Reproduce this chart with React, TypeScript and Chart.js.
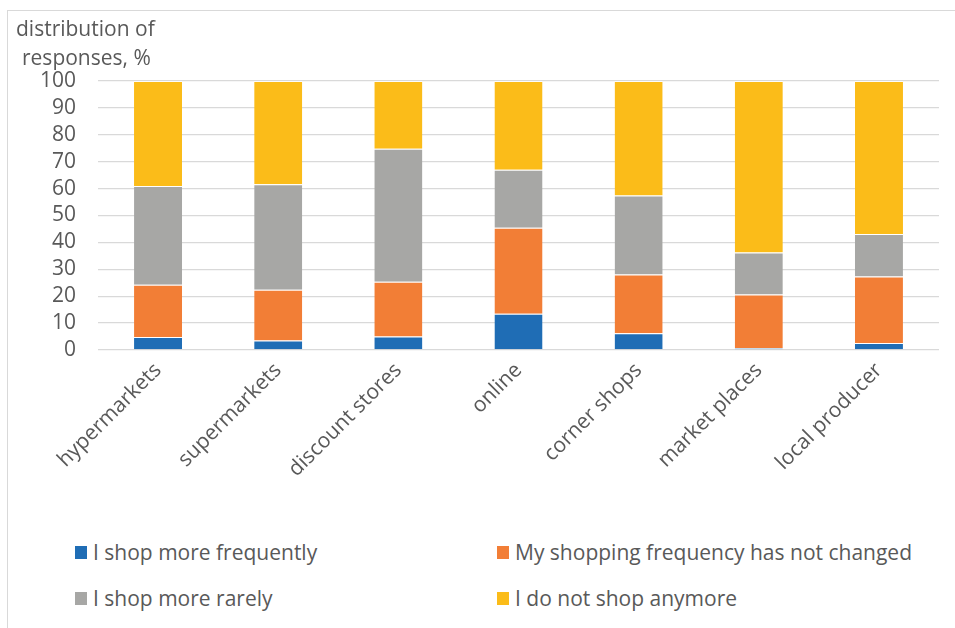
import React, { useEffect, useRef } from "react";
import { Chart, registerables } from "chart.js";

Chart.register(...registerables);

const categories = [
  "hypermarkets",
  "supermarkets",
  "discount stores",
  "online",
  "corner shops",
  "market places",
  "local producer",
];

const seriesNames = [
  "I shop more frequently",
  "My shopping frequency has not changed",
  "I shop more rarely",
  "I do not shop anymore",
];

const moreFrequently = [4.8, 3.5, 5.0, 13.5, 6.2, 0.7, 2.6];
const notChanged = [19.5, 18.9, 20.4, 31.9, 21.9, 19.9, 24.7];
const moreRarely = [36.7, 39.2, 49.4, 21.6, 29.3, 15.6, 15.8];
const notAnymore = [39.0, 38.4, 25.2, 33.0, 42.6, 63.8, 56.9];

const seriesColors = ["#1F6DB5", "#F27E36", "#A7A7A5", "#FBBC19"];

const yTitle = ["distribution of", "responses, %"];

const FONT = "'Open Sans', sans-serif";
const TEXT = "#595959";

export default function App() {
  const ref = useRef<HTMLCanvasElement | null>(null);

  useEffect(() => {
    document.body.style.margin = "0";
    const values = [moreFrequently, notChanged, moreRarely, notAnymore];
    const chart = new Chart(ref.current as HTMLCanvasElement, {
      type: "bar",
      data: {
        labels: categories,
        datasets: values.map((v, i) => ({
          label: seriesNames[i],
          data: v,
          backgroundColor: seriesColors[i],
          borderColor: "rgba(255,255,255,0.6)",
          borderWidth: { top: 1, bottom: 0, left: 0, right: 0 },
          barPercentage: 0.4,
          categoryPercentage: 1,
        })),
      },
      options: {
        animation: false,
        responsive: false,
        maintainAspectRatio: false,
        layout: { padding: { top: 81, right: 16, left: 0, bottom: 0 } },
        plugins: {
          legend: { display: false },
          tooltip: { enabled: false },
          title: { display: false },
        },
        scales: {
          x: {
            stacked: true,
            grid: { display: false },
            border: { display: false },
            afterFit: (s: any) => {
              s.height = 170;
            },
            ticks: {
              color: TEXT,
              font: { family: FONT, size: 21 },
              maxRotation: 45,
              minRotation: 45,
              padding: 0,
              autoSkip: false,
            },
          },
          y: {
            stacked: true,
            min: 0,
            max: 100,
            afterFit: (s: any) => {
              s.width = 98;
            },
            grid: { color: "#D9D9D9", lineWidth: 1.3, drawTicks: false },
            border: { display: false },
            ticks: {
              stepSize: 10,
              autoSkip: false,
              color: TEXT,
              font: { family: FONT, size: 21 },
              padding: 22,
            },
          },
        },
      },
    });
    return () => chart.destroy();
  }, []);

  const legendPos = [
    { left: 75, top: 539 },
    { left: 497, top: 539 },
    { left: 75, top: 585 },
    { left: 497, top: 585 },
  ];

  return (
    <div
      style={{
        position: "relative",
        width: 955,
        height: 628,
        overflow: "hidden",
        fontFamily: FONT,
        color: TEXT,
        background: "#fff",
      }}
    >
      <div
        style={{
          position: "absolute",
          left: 7,
          top: 10,
          width: 980,
          height: 640,
          border: "1px solid #D9D9D9",
        }}
      />
      <canvas
        ref={ref}
        width={955}
        height={520}
        style={{ position: "absolute", left: 0, top: 0, width: 955, height: 520 }}
      />
      <div style={{ position: "absolute", left: 16, top: 14, fontSize: 21, lineHeight: "29px" }}>
        <div>{yTitle[0]}</div>
        <div style={{ paddingLeft: 6 }}>{yTitle[1]}</div>
      </div>
      {seriesNames.map((name, i) => (
        <div
          key={name}
          style={{
            position: "absolute",
            left: legendPos[i].left,
            top: legendPos[i].top,
            display: "flex",
            alignItems: "center",
            fontSize: 21,
            lineHeight: "26px",
            whiteSpace: "nowrap",
          }}
        >
          <span
            style={{
              display: "inline-block",
              width: 12,
              height: 13,
              background: seriesColors[i],
              marginRight: 6,
            }}
          />
          <span>{name}</span>
        </div>
      ))}
    </div>
  );
}
